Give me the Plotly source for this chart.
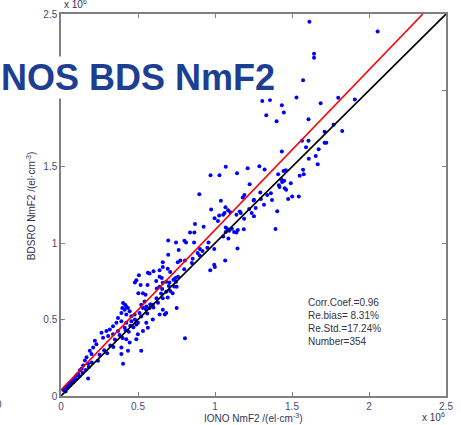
import plotly.graph_objects as go

# Scatter data (units of 1e6 el/cm^3)
iono_nmf2 = [
    1.613, 2.056, 1.643, 1.643, 1.572, 1.529, 1.307, 1.357, 1.434, 1.333, 1.447, 1.400, 1.686, 1.800, 1.908,
    1.607, 1.770, 1.712, 1.826, 1.565, 1.607, 1.712, 1.723, 1.591, 1.673, 1.434, 1.609, 1.654, 1.667, 1.070,
    1.212, 1.288, 1.322, 0.971, 1.029, 1.143, 1.410, 1.445, 1.460, 1.572, 1.576, 1.550, 1.430, 1.436, 1.492,
    1.449, 1.225, 1.415, 1.419, 1.294, 1.363, 1.462, 1.544, 1.191, 1.180, 0.898, 1.038, 1.298, 1.370, 1.475,
    1.251, 1.453, 1.501, 1.339, 1.404, 1.393, 1.253, 1.264, 1.318, 1.222, 1.238, 1.253,
    0.975, 1.027, 1.053, 1.062, 0.997, 1.100, 1.019, 1.068, 1.085, 1.139, 1.161, 1.167, 1.189, 1.070, 1.083,
    1.070, 1.092, 1.109, 1.124, 1.139, 1.053, 1.087, 1.148, 1.187, 0.926, 0.870, 0.838, 0.866, 0.801, 0.812,
    0.864, 0.747, 0.696, 0.764, 0.902, 0.919, 0.958, 0.995, 1.146, 0.696, 0.775, 0.758, 0.805, 0.855, 0.887,
    1.066, 0.995, 0.999, 0.969, 0.661, 0.661, 0.640, 0.601, 0.575, 0.693, 0.709, 0.640, 0.654, 0.618, 0.661,
    0.683, 0.704, 0.743, 0.747, 0.736, 0.640, 0.622, 0.657, 0.683, 0.709, 0.725, 0.751, 0.661, 0.693,
    0.506, 0.489, 0.480, 0.517, 0.564, 0.562, 0.502, 0.532, 0.549, 0.403, 0.416, 0.424, 0.398, 0.413, 0.435,
    0.446, 0.392, 0.424, 0.457, 0.478, 0.510, 0.521, 0.543, 0.532, 0.554, 0.575, 0.596, 0.370, 0.392, 0.360,
    0.338, 0.317, 0.295, 0.263, 0.273, 0.306, 0.338, 0.370, 0.413, 0.424, 0.457, 0.489, 0.489, 0.424, 0.446,
    0.435, 0.392, 0.403, 0.521, 0.392, 0.499, 0.532, 0.564, 0.554, 0.596, 0.640, 0.661, 0.683, 0.805, 0.751,
    0.674, 0.220, 0.230, 0.209, 0.187, 0.198, 0.166, 0.155, 0.176, 0.144, 0.134, 0.123, 0.112, 0.101, 0.090,
    0.079, 0.069, 0.058, 0.047, 0.037, 0.026, 0.015, 0.176,
    0.250, 0.280, 0.320, 0.350, 0.380, 0.420, 0.450, 0.480, 0.520, 0.550, 0.580, 0.620, 0.650, 0.700, 0.730,
    0.760, 0.800, 0.850, 0.900, 0.950, 0.240, 0.300, 0.340, 0.400, 0.440, 0.470, 0.500, 0.560, 0.600, 0.630,
    0.120, 0.140, 0.160, 0.180, 0.200, 0.060, 0.080, 0.100, 0.040, 0.030,
]
bdsro_nmf2 = [
    2.449, 2.386, 2.240, 2.214, 2.066, 1.954, 1.931, 1.937, 1.903, 1.838, 1.856, 1.798, 1.916, 1.952, 1.941,
    1.812, 1.776, 1.729, 1.735, 1.671, 1.671, 1.658, 1.658, 1.628, 1.615, 1.600, 1.553, 1.570, 1.516, 1.501,
    1.490, 1.503, 1.482, 1.445, 1.445, 1.458, 1.452, 1.473, 1.477, 1.480, 1.452, 1.441, 1.418, 1.400, 1.392,
    1.409, 1.385, 1.379, 1.368, 1.331, 1.327, 1.349, 1.306, 1.316, 1.299, 1.321, 1.278, 1.289, 1.282, 1.289,
    1.280, 1.360, 1.306, 1.316, 1.209, 1.093, 1.284, 1.231, 1.252, 1.224, 1.198, 1.177,
    1.220, 1.181, 1.186, 1.198, 1.164, 1.203, 1.145, 1.235, 1.216, 1.187, 1.207, 1.198, 1.160, 1.102, 1.091,
    1.074, 1.081, 1.095, 1.074, 1.070, 1.044, 1.031, 1.086, 1.091, 1.108, 1.126, 1.070, 1.070, 1.016, 1.005,
    1.005, 1.005, 1.018, 0.956, 0.962, 0.949, 1.005, 0.962, 0.966, 0.924, 0.887, 0.876, 0.887, 0.898, 0.936,
    0.887, 0.859, 0.844, 0.823, 0.876, 0.844, 0.823, 0.816, 0.801, 0.833, 0.812, 0.780, 0.773, 0.752, 0.741,
    0.747, 0.743, 0.773, 0.747, 0.717, 0.715, 0.704, 0.700, 0.683, 0.687, 0.672, 0.715, 0.640, 0.644,
    0.790, 0.758, 0.743, 0.726, 0.807, 0.726, 0.672, 0.672, 0.662, 0.608, 0.597, 0.586, 0.576, 0.565, 0.576,
    0.554, 0.543, 0.533, 0.522, 0.533, 0.543, 0.597, 0.619, 0.576, 0.586, 0.576, 0.597, 0.511, 0.490, 0.479,
    0.457, 0.436, 0.425, 0.414, 0.382, 0.393, 0.404, 0.425, 0.447, 0.479, 0.490, 0.468, 0.372, 0.372, 0.350,
    0.296, 0.275, 0.211, 0.296, 0.318, 0.404, 0.425, 0.447, 0.479, 0.500, 0.533, 0.565, 0.543, 0.378, 0.576,
    0.533, 0.361, 0.339, 0.318, 0.296, 0.275, 0.253, 0.232, 0.211, 0.200, 0.178, 0.168, 0.146, 0.135, 0.114,
    0.103, 0.092, 0.082, 0.071, 0.060, 0.050, 0.039, 0.114,
    0.270, 0.300, 0.330, 0.370, 0.400, 0.430, 0.460, 0.500, 0.520, 0.570, 0.600, 0.640, 0.670, 0.720, 0.760,
    0.780, 0.830, 0.870, 0.920, 0.970, 0.230, 0.280, 0.320, 0.380, 0.420, 0.450, 0.480, 0.540, 0.580, 0.610,
    0.130, 0.150, 0.170, 0.190, 0.220, 0.070, 0.090, 0.110, 0.050, 0.030,
]

# Fit line (red) and 1:1 line (black)
fit_slope = 1.047
fit_intercept = 0.04
fit_x = [0.0, (2.5 - fit_intercept) / fit_slope]
fit_y = [fit_intercept + fit_slope * v for v in fit_x]
ref_x = [0.0, 2.5]
ref_y = [0.0, 2.5]

tick_vals = [0, 0.5, 1, 1.5, 2, 2.5]
tick_text = ["0", "0.5", "1", "1.5", "2", "2.5"]

stats_text = "Corr.Coef.=0.96<br>Re.bias= 8.31%<br>Re.Std.=17.24%<br>Number=354"

W, H = 461, 425
L, R, T, B = 61, 13, 8, 29
PW, PH = W - L - R, H - T - B


def px_x(px):
    return (px - L) / PW


def px_y(py):
    return (H - B - py) / PH


fig = go.Figure()
fig.add_trace(go.Scatter(x=iono_nmf2, y=bdsro_nmf2, mode="markers",
                         marker=dict(color="#0000ff", size=4, line=dict(width=0)),
                         showlegend=False))
fig.add_trace(go.Scatter(x=fit_x, y=fit_y, mode="lines",
                         line=dict(color="#ff0000", width=1.6), showlegend=False))
fig.add_trace(go.Scatter(x=ref_x, y=ref_y, mode="lines",
                         line=dict(color="#000000", width=1.6), showlegend=False))

axis_common = dict(range=[0, 2.5], tickvals=tick_vals, ticktext=tick_text,
                   showline=True, linecolor="#808080", linewidth=1.5, mirror="ticks",
                   ticks="inside", ticklen=4, tickcolor="#808080", tickwidth=1,
                   showgrid=False, zeroline=False,
                   tickfont=dict(family="Liberation Sans, Arial", size=10, color="#4b4b6e"))

fig.update_layout(
    width=W, height=H,
    margin=dict(l=L, r=R, t=T, b=B, pad=0),
    paper_bgcolor="white", plot_bgcolor="white",
    xaxis=dict(**axis_common),
    yaxis=dict(**axis_common),
    annotations=[
        dict(text="<b>NOS BDS NmF2</b>", xref="paper", yref="paper",
             x=px_x(0), y=px_y(72), xanchor="left", yanchor="middle", showarrow=False,
             font=dict(family="Liberation Sans, Arial", size=36, color="#1c3f94"),
             bgcolor="white", borderpad=0),
        dict(text=stats_text, xref="paper", yref="paper", x=px_x(307), y=px_y(293),
             xanchor="left", yanchor="top", align="left", showarrow=False,
             font=dict(family="Liberation Sans, Arial", size=10, color="#333344")),
        dict(text="IONO NmF2 /(el·cm<sup>-3</sup>)", xref="paper", yref="paper",
             x=px_x(254), y=px_y(418), xanchor="center", yanchor="middle", showarrow=False,
             font=dict(family="Liberation Sans, Arial", size=10, color="#333355")),
        dict(text="BDSRO NmF2 /(el·cm<sup>-3</sup>)", xref="paper", yref="paper",
             x=px_x(31), y=px_y(203), xanchor="center", yanchor="middle", textangle=-90,
             showarrow=False,
             font=dict(family="Liberation Sans, Arial", size=10, color="#333355")),
        dict(text="x 10<sup>6</sup>", xref="paper", yref="paper",
             x=px_x(449), y=px_y(425), xanchor="right", yanchor="bottom", showarrow=False,
             font=dict(family="Liberation Sans, Arial", size=10, color="#333355")),
        dict(text="x 10<sup>6</sup>", xref="paper", yref="paper",
             x=px_x(62), y=px_y(6), xanchor="left", yanchor="bottom", showarrow=False,
             font=dict(family="Liberation Sans, Arial", size=10, color="#333355")),
        dict(text="0", xref="paper", yref="paper",
             x=px_x(4), y=px_y(405), xanchor="right", yanchor="middle", showarrow=False,
             font=dict(family="Liberation Sans, Arial", size=10, color="#4b4b6e")),
    ],
)

fig.write_html("out.html")
